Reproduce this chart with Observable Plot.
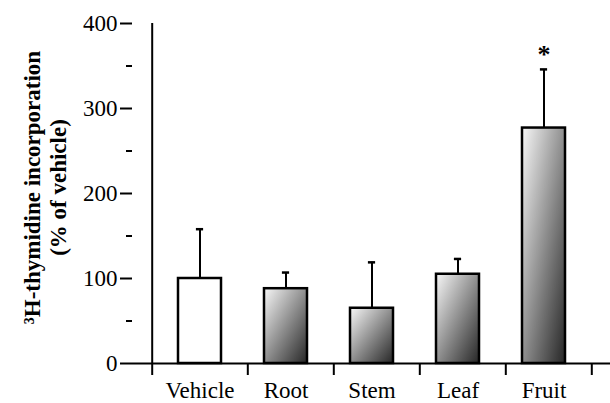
<!DOCTYPE html>
<html>
<head>
<meta charset="utf-8">
<script src="https://cdn.jsdelivr.net/npm/d3@7"></script>
<script src="https://cdn.jsdelivr.net/npm/@observablehq/plot@0.6"></script>
<style>
  html, body { margin: 0; padding: 0; background: #fff; }
  #chart svg { display: block; }
</style>
</head>
<body>
<div id="chart"></div>
<script>
const categories = ["Vehicle", "Root", "Stem", "Leaf", "Fruit"];
const means = [100, 88, 65, 105, 277];
const errTop = [158, 107, 119, 123, 346];
const marks = ["", "", "", "", "*"];
const majorTicks = [0, 100, 200, 300, 400];
const minorTicks = [50, 150, 250, 350];
const yLabel = "\u00B3H-thymidine incorporation\n(% of vehicle)";

const data = categories.map((c, i) => ({cat: c, mean: means[i], top: errTop[i], mark: marks[i], control: i === 0}));

const W = 610, H = 403, mL = 132, mR = 0, mT = 23, mB = 40;
const step = (W - mL - mR) / categories.length;
const bw = step * 0.5;
const capW = 12;
const font = "Liberation Serif, Times New Roman, serif";

const chart = Plot.plot({
  width: W, height: H,
  marginLeft: mL, marginRight: mR, marginTop: mT, marginBottom: mB,
  style: {fontFamily: font, color: "#000", background: "#fff"},
  x: {domain: categories, padding: 0.5, label: null},
  y: {domain: [0, 400], label: null},
  marks: [
    Plot.axisY({ticks: majorTicks, tickSize: 12, tickPadding: 3, fontSize: 23, tickFormat: d => d, stroke: "#000", strokeWidth: 2, label: null}),
    Plot.axisY({ticks: minorTicks, tickSize: 6, text: null, stroke: "#000", strokeWidth: 2, label: null}),
    Plot.axisX({tickSize: 0, tickPadding: 18, fontSize: 23, label: null}),
    Plot.ruleX(data, {x: "cat", y1: "mean", y2: "top", stroke: "#000", strokeWidth: 2}),
    Plot.tickY(data, {x: "cat", y: "top", stroke: "#000", strokeWidth: 2.5, insetLeft: (bw - capW) / 2, insetRight: (bw - capW) / 2}),
    Plot.barY(data, {x: "cat", y: "mean", fill: d => d.control ? "#ffffff" : "url(#barGrad)", stroke: "#000", strokeWidth: 2.5}),
    Plot.ruleY([0], {stroke: "#000", strokeWidth: 2}),
    Plot.ruleX([categories[0]], {x: d => d, y1: 400, y2: 0, dx: -step / 2, insetBottom: -12, stroke: "#000", strokeWidth: 2}),
    Plot.ruleX(categories, {x: d => d, y1: 0, y2: 0, dx: step / 2, insetBottom: -12, stroke: "#000", strokeWidth: 2}),
    Plot.text(data, {x: "cat", y: "top", text: "mark", dy: -15, fontSize: 26, fontWeight: "bold"}),
    Plot.text([yLabel], {text: d => d, frameAnchor: "left", textAnchor: "middle", dx: -88, dy: -6, rotate: -90, fontSize: 23, fontWeight: "bold", lineHeight: 1.15, fill: "#000"})
  ]
});

const svg = d3.select(chart);
const defs = svg.insert("defs", ":first-child");
const g = defs.append("linearGradient").attr("id", "barGrad")
  .attr("x1", 0).attr("y1", 0).attr("x2", 1).attr("y2", 1);
g.append("stop").attr("offset", "0%").attr("stop-color", "#f8f8f8");
g.append("stop").attr("offset", "100%").attr("stop-color", "#262626");

document.getElementById("chart").appendChild(chart);
</script>
</body>
</html>
